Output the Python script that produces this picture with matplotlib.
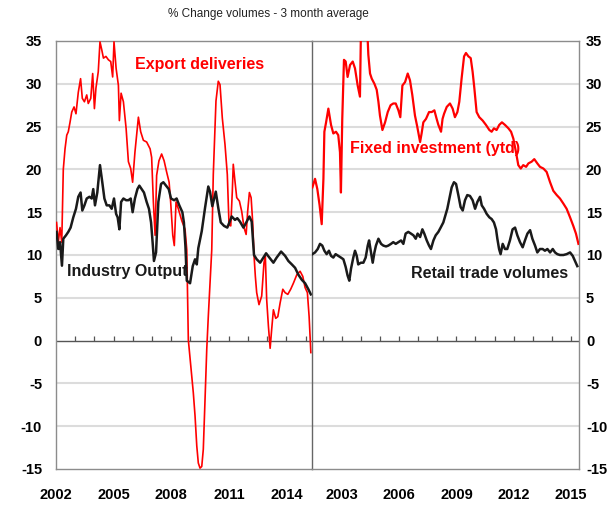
import numpy as np
import matplotlib
matplotlib.use("Agg")
import matplotlib.pyplot as plt

plt.rcParams['font.family'] = ['Liberation Sans', 'DejaVu Sans']

# left panel: export deliveries and industry output (% y/y, 3mma)
export_t = [2002.03, 2002.12, 2002.21, 2002.30, 2002.38, 2002.47, 2002.56, 2002.64, 2002.73, 2002.82,
            2002.94, 2003.04, 2003.16, 2003.28, 2003.37, 2003.48, 2003.60, 2003.68, 2003.81, 2003.91,
            2004.00, 2004.08, 2004.20, 2004.29, 2004.38, 2004.47, 2004.60, 2004.73, 2004.85, 2004.95,
            2005.02, 2005.13, 2005.25, 2005.30, 2005.39, 2005.51, 2005.65, 2005.77, 2005.89, 2005.99,
            2006.11, 2006.29, 2006.41, 2006.55, 2006.72, 2006.90, 2006.98, 2007.07, 2007.16, 2007.24,
            2007.36, 2007.50, 2007.63, 2007.76, 2007.89, 2007.97, 2008.08, 2008.16, 2008.25, 2008.37,
            2008.55, 2008.72, 2008.81, 2008.89, 2009.02, 2009.15, 2009.24, 2009.33, 2009.41, 2009.50,
            2009.59, 2009.67, 2009.76, 2009.85, 2009.93, 2010.02, 2010.11, 2010.19, 2010.33, 2010.45,
            2010.54, 2010.66, 2010.80, 2010.92, 2011.01, 2011.10, 2011.18, 2011.23, 2011.32, 2011.41,
            2011.55, 2011.67, 2011.79, 2011.90, 2011.98, 2012.07, 2012.16, 2012.24, 2012.31, 2012.38,
            2012.45, 2012.57, 2012.71, 2012.83, 2012.90, 2012.97, 2013.06, 2013.15, 2013.23, 2013.32,
            2013.44, 2013.55, 2013.67, 2013.81, 2013.93, 2014.07, 2014.22, 2014.36, 2014.54, 2014.71,
            2014.85, 2014.97, 2015.09, 2015.18, 2015.27]
export_v = [13.8, 11.5, 13.2, 11.5, 20.0, 22.4, 24.0, 24.4, 25.5, 26.7,
            27.3, 26.5, 29.0, 30.6, 28.3, 27.9, 28.7, 27.7, 28.3, 31.2,
            27.1, 29.5, 31.4, 34.9, 34.0, 33.0, 33.2, 32.8, 32.6, 30.8,
            34.9, 31.8, 29.8, 25.7, 28.9, 27.9, 24.8, 20.9, 20.1, 18.5,
            22.0, 26.1, 24.4, 23.4, 23.2, 22.4, 21.4, 16.2, 12.3, 19.3,
            21.0, 21.8, 21.0, 19.7, 18.5, 16.2, 12.3, 11.1, 16.2, 15.4,
            14.0, 13.0, 10.6, 0.1, -3.0, -6.1, -8.8, -12.3, -14.3, -14.9,
            -14.7, -12.7, -6.9, -1.0, 2.8, 6.7, 10.6, 19.4, 28.0, 30.3,
            29.9, 26.0, 22.9, 19.4, 13.5, 13.4, 17.4, 20.6, 18.6, 16.7,
            16.3, 15.1, 13.2, 12.4, 15.1, 17.3, 16.7, 13.9, 10.0, 7.5,
            5.6, 4.2, 5.2, 9.1, 9.9, 4.8, 1.7, -0.9, 1.3, 3.6,
            2.6, 2.8, 4.4, 6.0, 5.6, 5.4, 6.0, 6.7, 7.7, 8.1,
            7.5, 6.2, 5.6, 2.8, -1.4]

industry_t = [2002.03, 2002.12, 2002.21, 2002.31, 2002.38, 2002.52, 2002.64, 2002.76, 2002.90, 2003.04,
              2003.16, 2003.28, 2003.37, 2003.48, 2003.60, 2003.74, 2003.86, 2003.94, 2004.03, 2004.15,
              2004.29, 2004.41, 2004.52, 2004.64, 2004.78, 2004.90, 2005.02, 2005.13, 2005.21, 2005.30,
              2005.39, 2005.51, 2005.65, 2005.77, 2005.89, 2005.99, 2006.11, 2006.24, 2006.34, 2006.46,
              2006.58, 2006.72, 2006.84, 2006.95, 2007.03, 2007.10, 2007.21, 2007.33, 2007.47, 2007.59,
              2007.73, 2007.87, 2007.99, 2008.15, 2008.28, 2008.42, 2008.58, 2008.66, 2008.74, 2008.81,
              2008.98, 2009.12, 2009.24, 2009.33, 2009.41, 2009.59, 2009.76, 2009.93, 2010.02, 2010.14,
              2010.32, 2010.45, 2010.58, 2010.75, 2010.92, 2011.15, 2011.32, 2011.44, 2011.58, 2011.76,
              2011.93, 2012.07, 2012.19, 2012.31, 2012.45, 2012.63, 2012.80, 2012.94, 2013.11, 2013.32,
              2013.49, 2013.72, 2013.93, 2014.10, 2014.28, 2014.45, 2014.62, 2014.80, 2014.97, 2015.14,
              2015.27]
industry_v = [12.7, 10.7, 11.5, 8.75, 11.9, 12.3, 12.7, 13.2, 14.4, 15.4,
              16.8, 17.3, 15.2, 15.8, 16.6, 16.8, 16.6, 17.7, 15.8, 17.3,
              20.5, 18.5, 16.6, 15.8, 15.8, 15.4, 16.6, 14.8, 14.4, 13.0,
              16.2, 16.6, 16.4, 16.4, 16.6, 15.0, 16.6, 17.7, 18.1, 17.7,
              17.3, 16.2, 15.4, 13.8, 11.5, 9.3, 10.3, 16.2, 18.3, 18.5,
              18.1, 17.7, 16.6, 16.4, 16.6, 15.8, 15.0, 13.8, 11.0, 7.0,
              6.7, 8.7, 9.5, 8.9, 10.8, 12.8, 15.5, 18.0, 17.4, 15.7,
              17.4, 15.5, 13.8, 13.4, 13.2, 14.5, 14.1, 14.3, 13.9, 13.2,
              13.9, 14.5, 13.9, 10.0, 9.5, 9.1, 9.7, 10.2, 9.7, 9.1,
              9.7, 10.4, 9.9, 9.3, 8.9, 8.5, 7.7, 7.1, 6.7, 6.0,
              5.4]

# right panel: fixed investment (ytd) and retail trade volumes
fixed_t = [2001.43, 2001.57, 2001.69, 2001.81, 2001.92, 2002.01, 2002.06, 2002.15, 2002.27, 2002.41,
           2002.53, 2002.67, 2002.79, 2002.88, 2002.93, 2003.00, 2003.09, 2003.18, 2003.28, 2003.41,
           2003.55, 2003.67, 2003.81, 2003.93, 2003.98, 2004.16, 2004.32, 2004.37, 2004.46, 2004.55,
           2004.69, 2004.81, 2004.90, 2004.98, 2005.11, 2005.25, 2005.39, 2005.54, 2005.68, 2005.81,
           2005.95, 2006.05, 2006.16, 2006.30, 2006.44, 2006.56, 2006.68, 2006.82, 2006.94, 2007.09,
           2007.17, 2007.26, 2007.40, 2007.56, 2007.70, 2007.84, 2007.96, 2008.05, 2008.19, 2008.27,
           2008.35, 2008.49, 2008.66, 2008.80, 2008.92, 2009.05, 2009.15, 2009.27, 2009.40, 2009.50,
           2009.63, 2009.75, 2009.85, 2009.94, 2010.06, 2010.20, 2010.38, 2010.55, 2010.73, 2010.85,
           2010.97, 2011.11, 2011.25, 2011.39, 2011.55, 2011.73, 2011.87, 2011.99, 2012.13, 2012.25,
           2012.38, 2012.51, 2012.66, 2012.78, 2012.95, 2013.09, 2013.25, 2013.39, 2013.57, 2013.74,
           2013.92, 2014.09, 2014.27, 2014.44, 2014.62, 2014.79, 2014.97, 2015.14, 2015.28, 2015.41]
fixed_v = [17.9, 18.9, 17.7, 15.8, 13.6, 18.9, 24.4, 25.5, 27.1, 25.2,
           24.2, 24.4, 24.0, 22.0, 17.3, 25.9, 32.8, 32.6, 30.8, 32.2,
           32.6, 31.8, 29.8, 28.5, 36.0, 38.0, 36.0, 33.4, 31.2, 30.6,
           30.0, 29.3, 27.9, 26.3, 24.6, 25.5, 26.7, 27.5, 27.7, 27.7,
           26.9, 26.1, 29.8, 30.2, 31.2, 30.4, 28.7, 26.3, 25.0, 23.2,
           24.2, 25.5, 25.9, 26.7, 26.7, 26.9, 25.9, 25.2, 24.4, 25.9,
           26.5, 27.3, 27.7, 27.1, 26.1, 26.7, 27.9, 30.6, 33.2, 33.6,
           33.2, 33.0, 31.4, 29.5, 26.7, 26.1, 25.7, 25.2, 24.6, 24.4,
           24.8, 24.6, 25.2, 25.5, 25.2, 24.8, 24.4, 23.6, 22.0, 20.5,
           20.1, 20.5, 20.3, 20.7, 20.9, 21.2, 20.7, 20.3, 20.1, 19.7,
           18.5, 17.5, 17.0, 16.6, 16.0, 15.4, 14.4, 13.4, 12.5, 11.3]

retail_t = [2001.43, 2001.57, 2001.71, 2001.83, 2001.95, 2002.06, 2002.18, 2002.30, 2002.41, 2002.53,
            2002.65, 2002.79, 2002.93, 2003.06, 2003.18, 2003.28, 2003.37, 2003.46, 2003.58, 2003.67,
            2003.76, 2003.84, 2003.98, 2004.11, 2004.23, 2004.34, 2004.41, 2004.51, 2004.60, 2004.69,
            2004.77, 2004.90, 2005.04, 2005.16, 2005.30, 2005.42, 2005.56, 2005.68, 2005.81, 2005.95,
            2006.09, 2006.21, 2006.33, 2006.47, 2006.61, 2006.74, 2006.86, 2006.96, 2007.09, 2007.21,
            2007.31, 2007.44, 2007.56, 2007.66, 2007.79, 2007.91, 2008.05, 2008.17, 2008.31, 2008.52,
            2008.63, 2008.75, 2008.87, 2008.98, 2009.10, 2009.22, 2009.33, 2009.45, 2009.57, 2009.71,
            2009.85, 2009.98, 2010.10, 2010.24, 2010.33, 2010.45, 2010.59, 2010.73, 2010.85, 2010.97,
            2011.08, 2011.15, 2011.24, 2011.32, 2011.43, 2011.55, 2011.67, 2011.81, 2011.95, 2012.08,
            2012.20, 2012.34, 2012.48, 2012.60, 2012.73, 2012.87, 2012.99, 2013.13, 2013.25, 2013.39,
            2013.53, 2013.65, 2013.78, 2013.92, 2014.06, 2014.18, 2014.30, 2014.44, 2014.62, 2014.79,
            2014.97, 2015.11, 2015.23, 2015.35]
retail_v = [10.1, 10.3, 10.7, 11.3, 11.1, 10.5, 10.1, 10.5, 9.9, 9.7,
            10.1, 9.9, 9.7, 9.5, 8.6, 7.6, 7.0, 8.4, 9.7, 10.5,
            9.9, 8.9, 9.1, 9.1, 9.7, 11.1, 11.7, 10.3, 9.1, 10.3,
            11.1, 11.9, 11.3, 11.1, 11.0, 11.1, 11.3, 11.5, 11.3, 11.5,
            11.7, 11.3, 12.5, 12.7, 12.5, 12.3, 11.9, 12.5, 12.1, 13.0,
            12.5, 11.7, 11.1, 10.7, 11.7, 12.3, 12.7, 13.2, 13.8, 15.4,
            16.6, 17.9, 18.5, 18.3, 17.0, 15.6, 15.2, 16.4, 17.0, 16.9,
            16.4, 15.4, 16.2, 16.8, 15.8, 15.4, 14.8, 14.4, 14.2, 13.8,
            13.0, 11.9, 10.7, 10.1, 11.3, 10.7, 10.7, 11.7, 13.0, 13.2,
            12.3, 11.5, 10.9, 11.7, 12.5, 12.9, 11.9, 11.1, 10.3, 10.7,
            10.7, 10.5, 10.7, 10.3, 10.7, 10.3, 10.1, 10.0, 10.0, 10.1,
            10.3, 9.9, 9.3, 8.7]

left_years = [2002, 2005, 2008, 2011, 2014]
right_years = [2003, 2006, 2009, 2012, 2015]
y_ticks = [-15, -10, -5, 0, 5, 10, 15, 20, 25, 30, 35]

RED = '#ff0000'
BLACK = '#1a1a1a'
GRID = '#dcdcdc'
FRAME = '#8c8c8c'

fig = plt.figure(figsize=(6.14, 5.12), dpi=100)
ax1 = fig.add_axes([56 / 614, 43 / 512, 256 / 614, 428 / 512])
ax2 = fig.add_axes([312 / 614, 43 / 512, 267 / 614, 428 / 512])

for ax in (ax1, ax2):
    ax.set_ylim(-15, 35)
    ax.set_yticks(y_ticks)
    for v in y_ticks[1:-1]:
        if v != 0:
            ax.axhline(v, color=GRID, lw=1.5, zorder=0)
    ax.axhline(0, color='#555555', lw=1.0, zorder=1)
    for s in ax.spines.values():
        s.set_color(FRAME)
        s.set_linewidth(1.0)
    ax.tick_params(length=0, labelsize=10.5)
    ax.tick_params(axis='x', pad=14)

# left panel
ax1.set_xlim(2002, 2015.33)
ax1.plot(export_t, export_v, color=RED, lw=1.2, zorder=3)
ax1.plot(industry_t, industry_v, color=BLACK, lw=1.8, zorder=4)
ax1.vlines(np.arange(2003, 2016), 0, 0.5, color='#555555', lw=0.9)
ax1.set_xticks(left_years)
ax1.set_xticklabels([str(y) for y in left_years], fontweight='bold')
ax1.set_yticklabels([str(v) for v in y_ticks], fontweight='bold')
ax1.tick_params(axis='y', pad=10)
ax1.spines['right'].set_visible(False)
ax1.text(2006.1, 32.3, 'Export deliveries', color=RED, fontsize=11.5,
         fontweight='bold', va='center')
ax1.text(2002.57, 8.1, 'Industry Output', color=BLACK, fontsize=11.5,
         fontweight='bold', va='center')

# right panel
ax2.set_xlim(2001.41, 2015.44)
ax2.plot(fixed_t, fixed_v, color=RED, lw=1.6, zorder=3)
ax2.plot(retail_t, retail_v, color=BLACK, lw=1.8, zorder=4)
ax2.vlines(np.arange(2002, 2016), 0, 0.5, color='#555555', lw=0.9)
ax2.set_xticks(right_years)
ax2.set_xticklabels([str(y) for y in right_years], fontweight='bold')
ax2.yaxis.tick_right()
ax2.set_yticklabels([str(v) for v in y_ticks], fontweight='bold')
ax2.tick_params(axis='y', pad=5)
ax2.spines['left'].set_color('#666666')
ax2.text(2003.4, 22.4, 'Fixed investment (ytd)', color=RED, fontsize=11.5,
         fontweight='bold', va='center')
ax2.text(2006.6, 7.8, 'Retail trade volumes', color=BLACK, fontsize=11.5,
         fontweight='bold', va='center')

fig.text(268 / 614, 1 - 14 / 512, '% Change volumes - 3 month average',
         fontsize=8.5, ha='center', va='center', color='#222222')

fig.savefig('out.png', dpi=100)
